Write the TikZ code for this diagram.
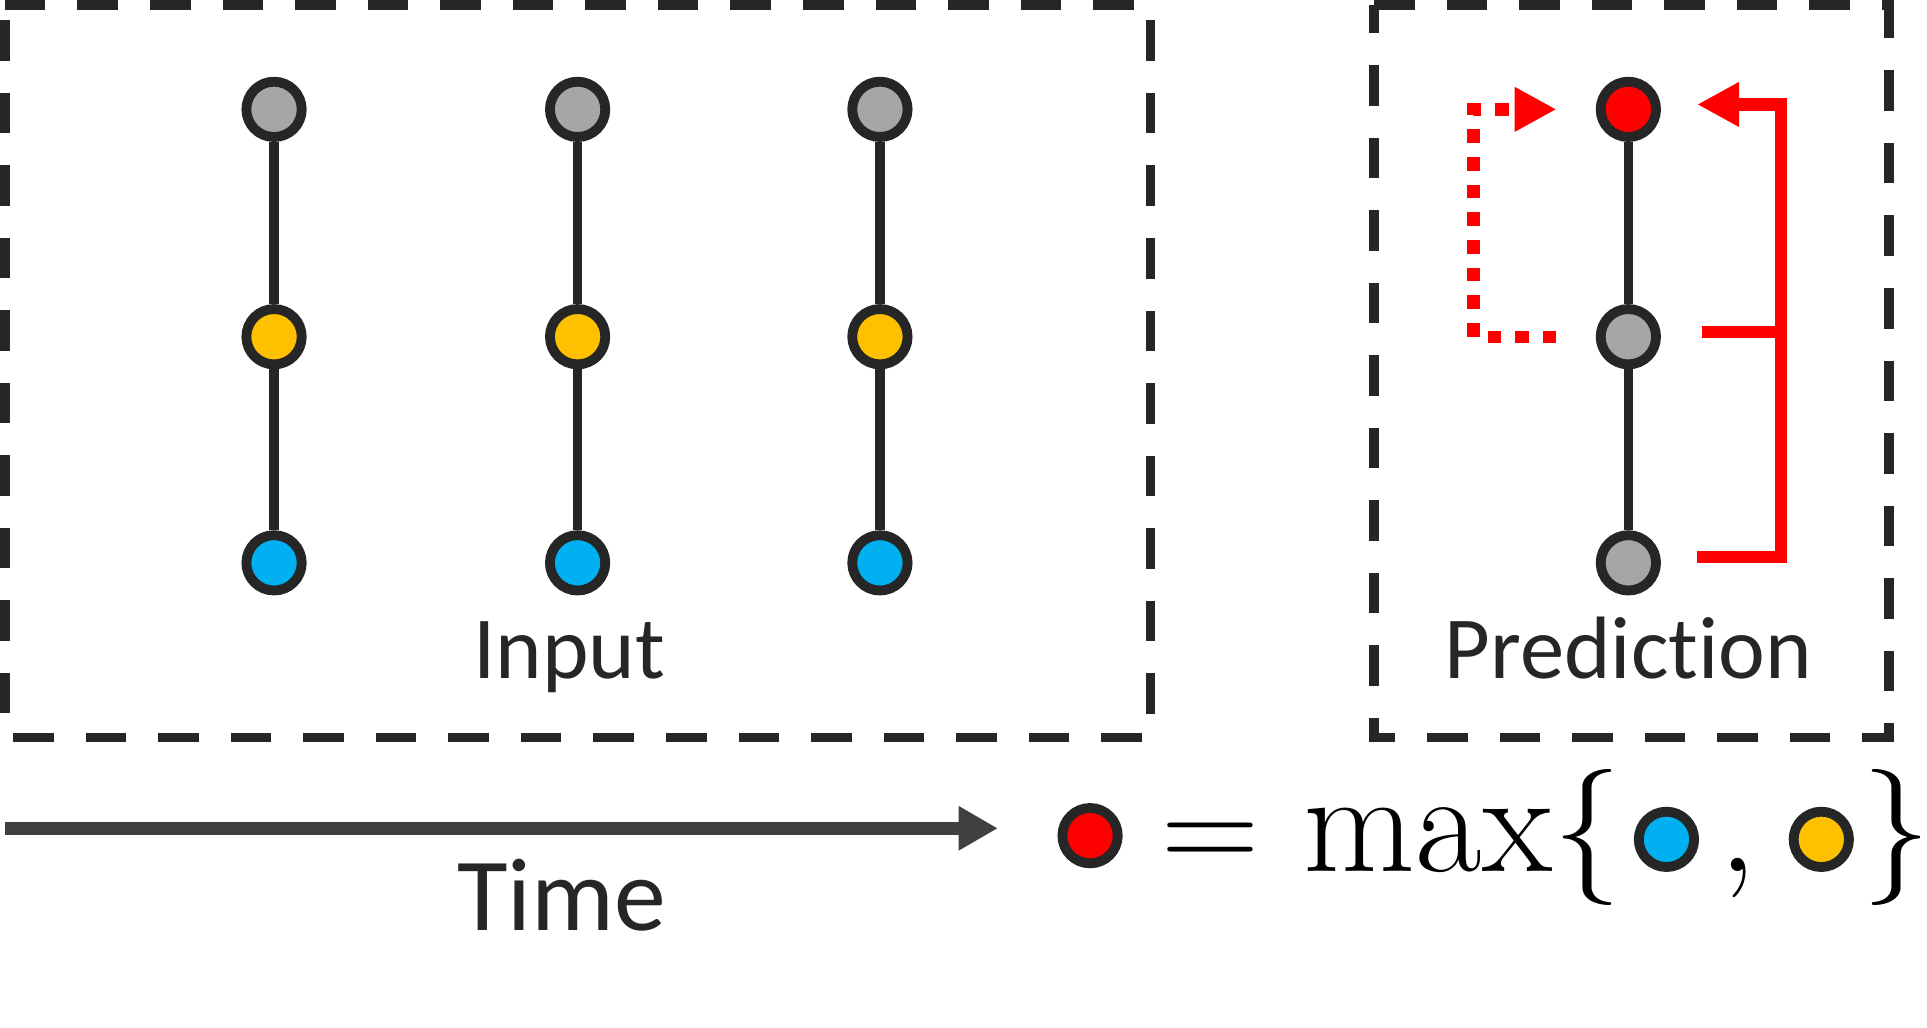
\RequirePackage{fix-cm}
\documentclass[tikz,border=0pt]{standalone}
\usepackage{fontspec}
\newfontfamily\carlito[Ligatures={NoCommon,NoRare,NoContextual}]{Carlito}
\usetikzlibrary{arrows.meta,calc}
\definecolor{dk}{HTML}{262626}
\definecolor{gr}{HTML}{A6A6A6}
\definecolor{yl}{HTML}{FFC000}
\definecolor{bl}{HTML}{00B0F0}
\definecolor{rd}{HTML}{FF0000}
\definecolor{ar}{HTML}{404040}
\begin{document}
\begin{tikzpicture}[x=0.01cm,y=-0.01cm,
  dot/.style={circle,draw=dk,line width=0.08cm,minimum size=0.45cm,inner sep=0pt},
  link/.style={draw=dk,line width=0.075cm},
  box/.style={draw=dk,line width=0.075cm,dash pattern=on 0.33cm off 0.26cm},
  lbl/.style={font=\carlito\fontsize{20.5}{24}\selectfont,text=dk,anchor=base,inner sep=0pt},
  eq/.style={font=\fontsize{31.5}{36}\selectfont,anchor=base,inner sep=0pt},
  redline/.style={draw=rd,line width=0.1cm},
  reddot/.style={draw=rd,line width=0.1cm,dash pattern=on 0.11cm off 0.115cm},
  rtip/.style={-{Triangle[length=0.34cm,width=0.34cm]}}
]
\useasboundingbox (0,0) rectangle (1568,835.7);
% boxes
\draw[box] (4,4) -- (936,4) -- (936,600) -- (4,600) -- cycle;
\draw[box] (1118,4) -- (1537,4) -- (1537,600) -- (1118,600) -- cycle;
% input columns
\foreach \i/\x in {1/223,2/470,3/716} {
  \node[dot,fill=gr] (t\i) at (\x,89) {};
  \node[dot,fill=yl] (m\i) at (\x,274) {};
  \node[dot,fill=bl] (b\i) at (\x,458) {};
  \draw[link] (t\i) -- (m\i) (m\i) -- (b\i);
}
\node[lbl] (inp) at (463,552) {Input};
% prediction column
\node[dot,fill=rd] (pt) at (1325,89) {};
\node[dot,fill=gr] (pm) at (1325,274) {};
\node[dot,fill=gr] (pb) at (1325,458) {};
\draw[link] (pt) -- (pm) (pm) -- (pb);
\node[lbl] (pred) at (1325,552) {Prediction};
% red arrows
\coordinate (dl) at (1199,0);
\coordinate (rv) at (1449,0);
\coordinate (ds) at ($(pm.west)+(-32,0)$);
\coordinate (de) at ($(pt.west)+(-32,0)$);
\draw[reddot,rtip] (ds) -- (dl |- ds) -- (dl |- de) -- (de);
\coordinate (ss) at ($(pb.east)+(29.5,-5)$);
\coordinate (se) at ($(pt.east)+(29.5,-4)$);
\coordinate (sm) at ($(pm.east)+(33.5,-4)$);
\draw[redline,rtip] (ss) -- (rv |- ss) -- (rv |- se) -- (se);
\draw[redline] (sm) -- (rv |- sm);
% time arrow
\coordinate (ts) at (4,674);
\coordinate (te) at (812,674);
\draw[draw=ar,line width=0.11cm,-{Triangle[length=0.32cm,width=0.34cm]}] (ts) -- (te);
\node[font=\carlito\fontsize{24}{28}\selectfont,text=dk,anchor=base,inner sep=0pt] (time) at (457,757) {Time};
% equation
\node[dot,fill=rd] (er) at (887,680) {};
\node[eq] (eqs) at (985,709) {$=$};
\node[eq,font=\fontsize{33.5}{38}\selectfont] (mx) at (1162,709) {$\max$};
\node[eq] (lb) at (1292,709) {$\{$};
\node[dot,fill=bl] (eb) at (1356,683) {};
\node[eq] (cm) at (1414,709) {$,$};
\node[dot,fill=yl] (ey) at (1482,683) {};
\node[eq] (rb) at (1543,709) {$\}$};
\end{tikzpicture}
\end{document}
